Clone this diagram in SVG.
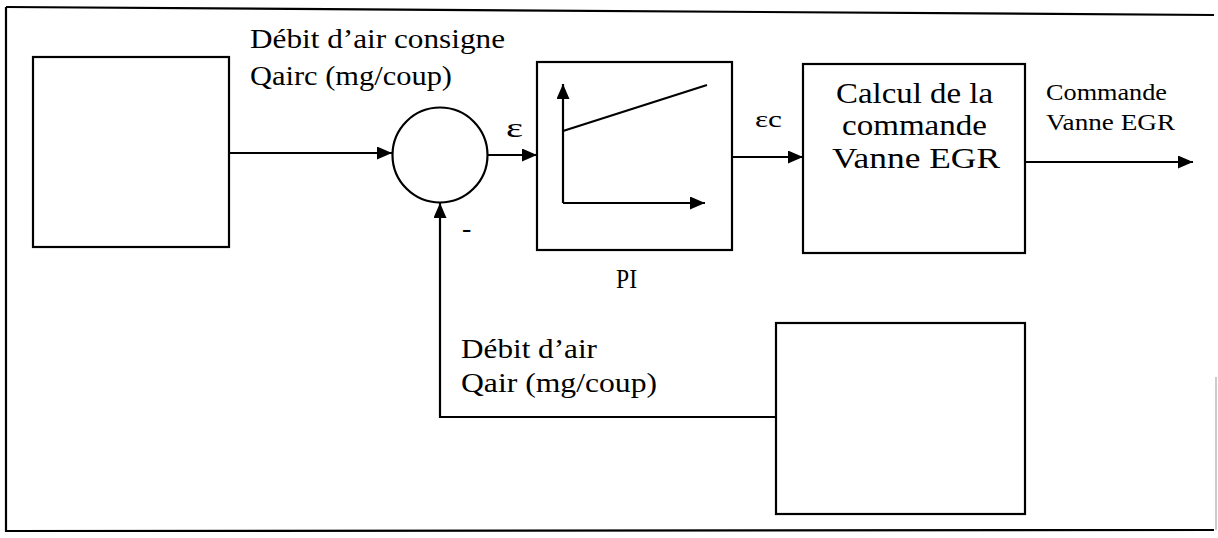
<svg xmlns="http://www.w3.org/2000/svg" width="1218" height="538" viewBox="0 0 1218 538">
<defs>
<style>
.box{fill:#fff;stroke:#000;stroke-width:2.2}
.ln{fill:none;stroke:#000;stroke-width:2.2}
.t{font-family:"Liberation Serif","Times New Roman",serif;fill:#000}
</style>
<marker id="ah" markerUnits="userSpaceOnUse" markerWidth="16" markerHeight="14" refX="15" refY="6.5" orient="auto">
<path d="M0,0 L15,6.5 L0,13 z" fill="#000"/>
</marker>
</defs>
<rect width="1218" height="538" fill="#fff"/>
<g id="frame">
<path class="ln" d="M6,7 L1214,15"/>
<path class="ln" d="M6,7 L6,531 L1214,530"/>
<path d="M1216,377 L1216,530" stroke="#bbb" stroke-width="1.5" fill="none"/>
</g>
<g id="connectors">
<path class="ln" d="M229,153 L392,153" marker-end="url(#ah)"/>
<path class="ln" d="M488,155 L537,155" marker-end="url(#ah)"/>
<path class="ln" d="M732,157 L803,157" marker-end="url(#ah)"/>
<path class="ln" d="M1025,162 L1193,162" marker-end="url(#ah)"/>
<path class="ln" d="M776,417 L440,417 L440,203" marker-end="url(#ah)"/>
</g>
<g id="source-box">
<rect class="box" x="33" y="57" width="196" height="190"/>
</g>
<g id="sum">
<circle class="box" cx="440" cy="155" r="47.5"/>
<text class="t" x="462" y="237" font-size="28">-</text>
</g>
<g id="pi">
<rect class="box" x="537" y="62" width="195" height="188"/>
<path class="ln" d="M563,203 L563,84" marker-end="url(#ah)"/>
<path class="ln" d="M563,203 L705,203" marker-end="url(#ah)"/>
<path class="ln" d="M563,131 L707,85"/>
<text class="t" x="616" y="288" font-size="28" textLength="21" lengthAdjust="spacingAndGlyphs">PI</text>
</g>
<g id="calc">
<rect class="box" x="803" y="64" width="222" height="189"/>
<text class="t" x="836" y="103" font-size="29" textLength="157" lengthAdjust="spacingAndGlyphs">Calcul de la</text>
<text class="t" x="842" y="135" font-size="29" textLength="145" lengthAdjust="spacingAndGlyphs">commande</text>
<text class="t" x="832" y="168" font-size="29" textLength="168" lengthAdjust="spacingAndGlyphs">Vanne EGR</text>
</g>
<g id="measure-box">
<rect class="box" x="776" y="323" width="249" height="191"/>
</g>
<g id="labels">
<text class="t" x="250" y="48" font-size="28" textLength="255" lengthAdjust="spacingAndGlyphs">Débit d’air consigne</text>
<text class="t" x="250" y="85" font-size="28" textLength="202" lengthAdjust="spacingAndGlyphs">Qairc (mg/coup)</text>
<text class="t" x="461" y="358" font-size="28" textLength="136" lengthAdjust="spacingAndGlyphs">Débit d’air</text>
<text class="t" x="461" y="392" font-size="28" textLength="196" lengthAdjust="spacingAndGlyphs">Qair (mg/coup)</text>
<text class="t" x="506" y="137" font-size="28" textLength="17" lengthAdjust="spacingAndGlyphs">ε</text>
<text class="t" x="755" y="127" font-size="23" textLength="27" lengthAdjust="spacingAndGlyphs">εc</text>
<text class="t" x="1046" y="100" font-size="23" textLength="121" lengthAdjust="spacingAndGlyphs">Commande</text>
<text class="t" x="1046" y="130" font-size="23" textLength="129" lengthAdjust="spacingAndGlyphs">Vanne EGR</text>
</g>
</svg>
